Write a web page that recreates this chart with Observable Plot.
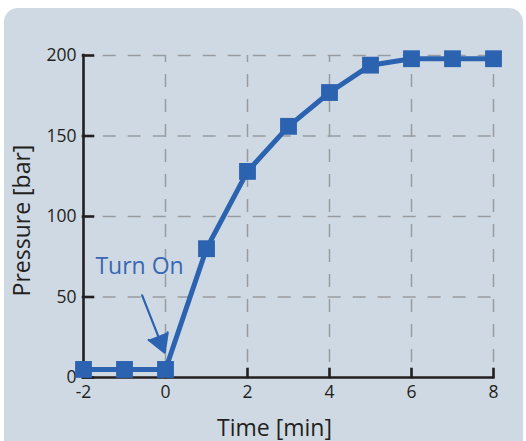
<!DOCTYPE html>
<html><head><meta charset="utf-8">
<script src="https://cdn.jsdelivr.net/npm/d3@7"></script>
<script src="https://cdn.jsdelivr.net/npm/@observablehq/plot@0.6"></script>
<style>
html,body{margin:0;padding:0;background:#fff;}
#panel{position:absolute;left:4px;top:8px;width:519px;height:470px;background:#cfd9e3;border-radius:14px;}
#chart{position:absolute;left:0;top:0;}
</style></head><body>
<div id="panel"></div><div id="chart"></div>
<script>
// ---- data ----
const time = [-2, -1, 0, 1, 2, 3, 4, 5, 6, 7, 8];
const pressure = [5, 5, 5, 80, 128, 156, 177, 194, 198, 198, 198];
const xDomain = [-2, 8];
const yDomain = [0, 200];
const xTicks = [-2, 0, 2, 4, 6, 8];
const yTicks = [0, 50, 100, 150, 200];
const xGrid = [0, 2, 4, 6, 8];
const yGrid = [50, 100, 150, 200];
const xLabel = ["Time [min]"];
const yLabel = ["Pressure [bar]"];
const noteText = ["Turn On"];
const noteX = [-1.71];
const noteY = [64];
const arrowX1 = [-0.57], arrowY1 = [51], arrowX2 = [-0.02], arrowY2 = [15.5];

// ---- layout / style ----
const W = 526, H = 441, mL = 83, mR = 33, mT = 55, mB = 64;
const innerW = W - mL - mR, innerH = H - mT - mB;
const blue = "#2c63b0", ink = "#231f20", gridColor = "#989ca1";

const data = time.map((t, i) => ({t, p: pressure[i]}));
const note = noteText.map((s, i) => ({s, x: noteX[i], y: noteY[i]}));
const arrows = arrowX1.map((x1, i) => ({x1, y1: arrowY1[i], x2: arrowX2[i], y2: arrowY2[i]}));

const chart = Plot.plot({
  width: W, height: H,
  marginLeft: mL, marginRight: mR, marginTop: mT, marginBottom: mB,
  style: {background: "transparent", fontFamily: "Open Sans", fontSize: "17.5px", color: ink, overflow: "visible"},
  x: {domain: xDomain},
  y: {domain: yDomain},
  marks: [
    Plot.ruleY(yGrid, {y: d => d, x1: xDomain[0], x2: xDomain[1], stroke: gridColor, strokeWidth: 1.5, strokeDasharray: "13,12", strokeDashoffset: 5.3}),
    Plot.ruleX(xGrid, {x: d => d, y1: yDomain[1], y2: yDomain[0], stroke: gridColor, strokeWidth: 1.5, strokeDasharray: "13,12", strokeDashoffset: 6}),
    Plot.ruleX([xDomain[0]], {x: d => d, y1: yDomain[0], y2: yDomain[1], stroke: ink, strokeWidth: 2.6, strokeLinecap: "square"}),
    Plot.ruleY([yDomain[0]], {y: d => d, x1: xDomain[0], x2: xDomain[1], stroke: ink, strokeWidth: 2.6, strokeLinecap: "square"}),
    Plot.tickX(xTicks, {x: d => d, insetTop: innerH - 8, stroke: ink, strokeWidth: 2.6, strokeLinecap: "square"}),
    Plot.tickY(yTicks, {y: d => d, insetRight: innerW - 10, stroke: ink, strokeWidth: 2.6, strokeLinecap: "square"}),
    Plot.axisX({ticks: xTicks, tickSize: 0, tickPadding: 8, tickFormat: d => String(d), label: null, fill: ink, fontSize: 17.5}),
    Plot.axisY({ticks: yTicks, tickSize: 0, tickPadding: 7, tickFormat: d => String(d), label: null, fill: ink, fontSize: 17.5}),
    Plot.line(data, {x: "t", y: "p", stroke: blue, strokeWidth: 5}),
    Plot.dot(data, {x: "t", y: "p", symbol: "square", r: 9.5, fill: blue, stroke: null}),
    Plot.arrow(arrows, {x1: "x1", y1: "y1", x2: "x2", y2: "y2", stroke: blue, fill: blue, strokeWidth: 2.2, headLength: 16}),
    Plot.text(note, {x: "x", y: "y", text: "s", textAnchor: "start", lineAnchor: "bottom", fill: "#3868b3", fontSize: 23}),
    Plot.text(yLabel, {text: d => d, frameAnchor: "left", textAnchor: "middle", lineAnchor: "bottom", rotate: -90, dx: -54, dy: 4, fontSize: 23, fill: ink}),
    Plot.text(xLabel, {text: d => d, frameAnchor: "bottom", textAnchor: "middle", lineAnchor: "bottom", dx: -14, dy: 58, fontSize: 23, fill: ink})
  ]
});
document.getElementById("chart").appendChild(chart);
</script>
</body></html>
